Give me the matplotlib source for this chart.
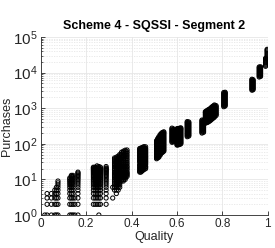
import matplotlib
matplotlib.use("Agg")
import matplotlib.pyplot as plt
from matplotlib.ticker import LogLocator, NullFormatter, FixedLocator

plt.rcParams['font.family'] = ['Liberation Sans', 'DejaVu Sans']
plt.rcParams['mathtext.fontset'] = 'custom'
plt.rcParams['mathtext.rm'] = 'Liberation Sans'
plt.rcParams['mathtext.it'] = 'Liberation Sans:italic'
plt.rcParams['mathtext.bf'] = 'Liberation Sans:bold'

title = "Scheme 4 - SQSSI - Segment 2"
xlabel = "Quality"
ylabel = "Purchases"
xticks = [0, 0.2, 0.4, 0.6, 0.8, 1]
xtick_labels = ["0", "0.2", "0.4", "0.6", "0.8", "1"]

# quality of each column of points
quality = [
    0.018, 0.028, 0.047, 0.062, 0.069, 0.076,
    0.128, 0.135, 0.142, 0.150, 0.164,
    0.232, 0.240, 0.248, 0.256, 0.263, 0.288,
    0.317, 0.325, 0.333, 0.341, 0.348, 0.356, 0.364, 0.372, 0.380,
    0.436, 0.441, 0.445, 0.450, 0.455, 0.462,
    0.510, 0.515, 0.520, 0.526, 0.532, 0.537, 0.542,
    0.578, 0.585, 0.600, 0.604, 0.608, 0.613, 0.617,
    0.645, 0.652,
    0.710, 0.717,
    0.725, 0.730, 0.735, 0.740, 0.745, 0.750, 0.755, 0.760, 0.765, 0.772,
    0.806, 0.812,
    0.930, 0.935,
    0.962, 0.968,
    0.990, 0.997,
]

# purchases observed in each column
purchases = [
    [1],
    [1, 2, 3, 4],
    [1, 2, 3, 4],
    [1, 2, 3, 4, 5],
    [1, 2, 3, 4, 5, 6],
    [1, 2, 3, 4, 5, 6, 7, 8, 9],
    [1, 2, 3, 4, 5, 6, 7, 8, 9, 10, 11],
    [1, 2, 3, 4, 5, 6, 7, 8, 9, 10, 11, 12, 13],
    [1, 2, 3, 4, 5, 6, 7, 8, 9, 10, 11, 12, 13],
    [1, 2, 3],
    [1, 2, 3, 4, 5, 6, 7, 8, 9, 10, 11, 12, 13, 14, 15, 16],
    [2, 3, 4, 5, 6, 7, 8, 9, 10, 11, 12, 13, 14, 15, 16, 17, 18, 19, 20, 21, 22],
    [2, 3, 4, 5, 6, 7, 8, 9, 10, 11, 12, 13, 14, 15, 16, 17, 18, 19, 20, 21, 22],
    [2, 3, 4, 5, 6, 7, 8, 9, 10, 11, 12, 13, 14, 15, 16, 17, 18, 19, 20, 22, 24],
    [1, 2, 3, 4, 5, 6, 7, 8, 9, 10, 11, 12, 13, 14, 15, 16, 17, 18, 19, 20, 21, 23],
    [2, 3, 4, 5, 6, 7, 8, 9, 10, 11, 12, 13, 14, 15, 16, 17, 18, 19, 20, 22],
    [2, 3, 4, 5, 6, 7, 8, 9, 10, 11, 12, 13, 14, 15, 16, 17, 18, 19, 20, 21, 23],
    [3, 6],
    [5, 6, 7, 8, 9, 10, 11, 12, 13, 14, 15, 16, 18, 20, 22, 24, 26, 28, 31, 34, 37, 40],
    [4, 5, 6, 7, 8, 9, 10, 11, 12, 13, 14, 15, 16, 18, 20, 22, 24, 26, 28, 31, 34, 38, 42],
    [5, 6, 7, 8, 9, 10, 11, 12, 13, 14, 15, 16, 18, 20, 22, 24, 26, 29, 32, 36, 40, 45],
    [6, 7, 8, 9, 10, 11, 12, 13, 14, 15, 16, 18, 20, 22, 24, 27, 30, 33, 37, 42, 46, 50],
    [9, 10, 11, 12, 13, 14, 15, 16, 18, 20, 22, 24, 27, 30, 33, 37, 41, 46, 52, 58],
    [9, 10, 11, 12, 13, 14, 15, 16, 18, 20, 22, 24, 27, 30, 34, 38, 42, 47, 52, 57, 62],
    [10, 11, 12, 13, 14, 15, 16, 18, 20, 22, 24, 27, 30, 34, 38, 43, 48, 54, 60, 66],
    [12, 13, 14, 15, 16, 18, 20, 22, 24, 27, 30, 34, 38, 43, 48, 54, 60, 67],
    [16, 17, 18, 20, 21, 23, 25, 26, 30, 32, 34, 37, 39, 42, 44, 47, 50, 54, 57, 61, 65, 70, 74],
    [16, 18, 19, 21, 22, 24, 26, 28, 30, 33, 35, 38, 41, 44, 47, 51, 55, 59, 63, 68, 74],
    [17, 19, 20, 22, 24, 26, 28, 30, 32, 34, 36, 39, 41, 44, 47, 50, 53, 57, 60, 64, 68, 73, 78],
    [18, 20, 21, 23, 25, 27, 29, 31, 33, 36, 38, 41, 44, 47, 51, 55, 59, 63, 67, 72, 80],
    [19, 21, 22, 24, 26, 28, 30, 33, 35, 38, 40, 43, 46, 49, 52, 56, 59, 63, 67, 71, 76, 83],
    [20, 22, 23, 26, 28, 30, 32, 34, 37, 39, 42, 44, 47, 50, 54, 57, 61, 65, 70, 74, 82],
    [38, 41, 43, 46, 49, 52, 56, 60, 64, 68, 73, 78, 83, 89, 95, 101, 108, 115, 123],
    [40, 43, 46, 49, 52, 56, 60, 64, 68, 73, 78, 83, 89, 95, 101, 108, 115, 123, 131, 140],
    [42, 45, 48, 51, 55, 59, 63, 67, 72, 77, 82, 88, 94, 100, 107, 114, 122, 130, 139, 148, 158],
    [48, 51, 55, 59, 63, 67, 72, 77, 82, 88, 94, 100, 107, 114, 122, 130, 139, 148, 158, 170, 182],
    [55, 59, 63, 67, 72, 77, 82, 88, 94, 100, 107, 114, 122, 130, 139, 148, 158, 170, 182, 200],
    [58, 62, 66, 71, 76, 81, 87, 93, 99, 106, 113, 121, 129, 138, 147, 157, 168, 180, 192, 208],
    [62, 66, 71, 76, 81, 87, 93, 99, 106, 113, 121, 129, 138, 147, 157, 168, 180, 192, 205, 217],
    [110, 117, 125, 134, 143, 153, 163, 174, 186, 199, 212, 227, 242, 258, 275],
    [114, 122, 130, 139, 148, 158, 169, 181, 193, 206, 220, 235, 250, 260],
    [92, 98, 105, 112, 120, 128, 137, 146, 156, 167, 178, 190, 203, 217, 232, 248, 265],
    [93, 100, 106, 114, 121, 130, 139, 148, 158, 169, 180, 193, 206, 220, 235, 250, 268],
    [95, 101, 108, 115, 123, 131, 140, 150, 160, 171, 182, 195, 208, 222, 237, 253, 270],
    [97, 104, 111, 118, 126, 135, 144, 154, 164, 175, 187, 200, 213, 228, 243, 260, 275],
    [100, 107, 114, 122, 130, 139, 148, 158, 169, 181, 193, 206, 220, 235, 250, 265, 280],
    [158, 169, 180, 192, 205, 219, 234, 250, 267, 285, 304, 325, 347, 370, 395, 420],
    [165, 176, 188, 201, 214, 229, 244, 260, 278, 297, 317, 338, 361, 385, 410],
    [200, 213, 228, 243, 260, 277, 296, 316, 337, 360, 384, 410, 438, 465],
    [210, 224, 240, 256, 273, 291, 311, 332, 355, 379, 405, 432, 460],
    [380, 405, 430, 460, 490, 525, 560, 600, 640, 685, 730, 765, 800],
    [390, 418, 445, 475, 508, 542, 578, 617, 658, 703, 750, 800, 840],
    [400, 428, 456, 488, 520, 556, 593, 634, 676, 722, 770, 825, 880],
    [420, 448, 478, 510, 545, 582, 621, 663, 708, 756, 807, 862, 920],
    [440, 470, 500, 534, 570, 609, 650, 694, 740, 790, 845, 902, 960],
    [470, 502, 535, 571, 610, 651, 695, 742, 792, 846, 903, 964, 1030],
    [500, 534, 570, 609, 650, 694, 740, 790, 845, 902, 960, 1030, 1100],
    [530, 566, 604, 645, 689, 735, 785, 838, 895, 955, 1020, 1090, 1160],
    [560, 598, 640, 683, 730, 779, 830, 887, 950, 1013, 1080, 1155, 1230],
    [620, 662, 700, 748, 800, 854, 910, 972, 1040, 1110, 1180],
    [1100, 1175, 1250, 1337, 1430, 1527, 1630, 1741, 1860, 1986, 2120, 2264, 2420, 2585, 2760],
    [1150, 1228, 1310, 1400, 1500, 1602, 1710, 1826, 1950, 2082, 2220, 2370, 2530, 2660, 2800],
    [3200, 3417, 3650, 3898, 4160, 4442, 4740, 5062, 5400, 5767, 6160, 6500],
    [3300, 3524, 3760, 4015, 4290, 4581, 4890, 5222, 5570, 5948, 6300],
    [7500, 8009, 8550, 9130, 9750, 10410, 11100, 11850, 12700, 13560, 14400],
    [7800, 8330, 8900, 9500, 10100, 10790, 11500, 12280, 13100, 13800, 14500],
    [15000, 16020, 17100, 18260, 19500, 20820, 22200, 23700, 25300],
    [24000, 25630, 27400, 29260, 31200, 33320, 35600, 38010, 40600, 42800, 45000],
]

xs, ys = [], []
for q, vals in zip(quality, purchases):
    for v in vals:
        xs.append(q)
        ys.append(v)

fig = plt.figure(figsize=(2.75, 2.48), dpi=100)
ax = fig.add_axes([0.148, 0.133, 0.826, 0.718])

ax.scatter(xs, ys, s=9, facecolors='none', edgecolors='black', linewidths=0.7, zorder=3)

ax.set_yscale('log')
ax.set_xlim(0, 1)
ax.set_ylim(1, 1e5)
ax.xaxis.set_major_locator(FixedLocator(xticks))
ax.set_xticklabels(xtick_labels)
ax.yaxis.set_major_locator(LogLocator(base=10, numticks=10))
ax.yaxis.set_minor_locator(LogLocator(base=10, subs=range(2, 10), numticks=100))
ax.yaxis.set_minor_formatter(NullFormatter())

ax.grid(True, which='major', color='#e6e6e6', linewidth=0.6, linestyle='-', zorder=0)
ax.grid(True, which='minor', axis='y', color='#e6e6e6', linewidth=0.6, linestyle=(0, (1.5, 1.5)), zorder=0)
ax.set_axisbelow(True)

for side in ['top', 'right']:
    ax.spines[side].set_visible(False)
for side in ['left', 'bottom']:
    ax.spines[side].set_color('#262626')
    ax.spines[side].set_linewidth(0.6)

ax.tick_params(which='both', direction='in', colors='#262626', pad=2)
ax.tick_params(axis='x', labelsize=8.5)
ax.tick_params(axis='y', labelsize=11)
ax.tick_params(which='major', length=3, width=0.6)
ax.tick_params(which='minor', length=1.5, width=0.5)

ax.set_title(title, fontsize=9, fontweight='bold', pad=6)
ax.set_xlabel(xlabel, fontsize=9, labelpad=1, color='#262626')
ax.set_ylabel(ylabel, fontsize=9, labelpad=0, color='#262626')

fig.savefig("out.png", dpi=100)
